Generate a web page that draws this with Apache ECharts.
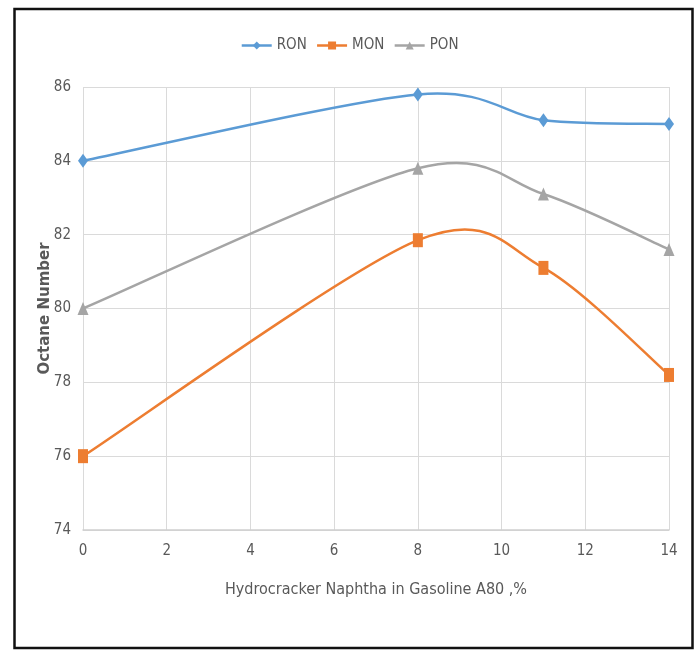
<!DOCTYPE html>
<html>
<head>
<meta charset="utf-8">
<script src="https://cdn.jsdelivr.net/npm/echarts@6/dist/echarts.min.js"></script>
<style>
  html, body { margin: 0; padding: 0; background: #ffffff; }
  #chart { width: 699px; height: 652px; }
</style>
</head>
<body>
<div id="chart"></div>
<script>
// Hydrocracker naphtha content (%) in gasoline A80
const naphthaPct = [0, 8, 11, 14];
// Octane numbers at each blend level
const ronValues = [84.0, 85.8, 85.1, 85.0];
const monValues = [76.0, 81.85, 81.1, 78.2];
const ponValues = [80.0, 83.8, 83.1, 81.6];
const seriesNames = ['RON', 'MON', 'PON'];
const seriesColors = ['#5b9bd5', '#ed7d31', '#a5a5a5'];

const FONT = '"DejaVu Sans Condensed", "Roboto", "Open Sans", sans-serif';
const TEXT = '#595959';
const TENSION = 1 / 6.5;

function pairs(xs, ys) {
  return xs.map((x, i) => [x, ys[i]]);
}

// Spreadsheet-style smoothed curve: one cubic Bezier per segment,
// control points taken from the neighbouring points (Catmull-Rom style).
function smoothSegmentRenderer(values, color) {
  return function (params, api) {
    const i = params.dataIndex;
    const n = naphthaPct.length;
    if (i >= n - 1) return null;
    const clampIdx = (k) => Math.max(0, Math.min(n - 1, k));
    const pt = (k) => api.coord([naphthaPct[clampIdx(k)], values[clampIdx(k)]]);
    const p0 = pt(i - 1), p1 = pt(i), p2 = pt(i + 1), p3 = pt(i + 2);
    return {
      type: 'bezierCurve',
      silent: true,
      shape: {
        x1: p1[0], y1: p1[1],
        cpx1: p1[0] + (p2[0] - p0[0]) * TENSION, cpy1: p1[1] + (p2[1] - p0[1]) * TENSION,
        cpx2: p2[0] - (p3[0] - p1[0]) * TENSION, cpy2: p2[1] - (p3[1] - p1[1]) * TENSION,
        x2: p2[0], y2: p2[1]
      },
      style: { fill: null, stroke: color, lineWidth: 2.5, lineCap: 'round' }
    };
  };
}

const allValues = [ronValues, monValues, ponValues];
const symbols = ['diamond', 'rect', 'triangle'];
const symbolSizes = [[10, 14], [10, 14], [11, 13]];

const series = [];
allValues.forEach((vals, s) => {
  series.push({
    name: seriesNames[s] + '-curve',
    type: 'custom',
    coordinateSystem: 'cartesian2d',
    renderItem: smoothSegmentRenderer(vals, seriesColors[s]),
    data: pairs(naphthaPct, vals),
    encode: { x: 0, y: 1 },
    z: 2,
    silent: true
  });
});
allValues.forEach((vals, s) => {
  series.push({
    name: seriesNames[s],
    type: 'line',
    data: pairs(naphthaPct, vals),
    symbol: symbols[s],
    symbolSize: symbolSizes[s],
    showSymbol: true,
    lineStyle: { color: seriesColors[s], width: 2.5, opacity: 0 },
    itemStyle: { color: seriesColors[s] },
    z: 3
  });
});

const chart = echarts.init(document.getElementById('chart'), null, { renderer: 'canvas' });

chart.setOption({
  backgroundColor: '#ffffff',
  animation: false,
  textStyle: { fontFamily: FONT },
  graphic: [{
    type: 'rect',
    shape: { x: 14.5, y: 9, width: 678, height: 639 },
    style: { fill: 'none', stroke: '#111111', lineWidth: 2.5 },
    silent: true
  }],
  legend: {
    top: 33,
    left: 'center',
    itemWidth: 30,
    itemHeight: 10,
    itemGap: 9,
    lineStyle: { opacity: 1, width: 2.5 },
    textStyle: { color: TEXT, fontSize: 15, fontFamily: FONT },
    data: seriesNames
  },
  grid: { left: 83, right: 30, top: 87, bottom: 122, containLabel: false },
  xAxis: {
    type: 'value',
    min: 0,
    max: 14,
    interval: 2,
    name: 'Hydrocracker Naphtha in Gasoline A80 ,%',
    nameLocation: 'middle',
    nameGap: 52,
    nameTextStyle: { color: TEXT, fontSize: 16, fontFamily: FONT },
    axisLine: { show: true, lineStyle: { color: '#d0d0d0', width: 1.5 } },
    axisTick: { show: false },
    axisLabel: { color: TEXT, fontSize: 15, margin: 14, fontFamily: FONT },
    splitLine: { show: true, lineStyle: { color: '#dadada', width: 1 } }
  },
  yAxis: {
    type: 'value',
    min: 74,
    max: 86,
    interval: 2,
    name: 'Octane Number',
    nameLocation: 'middle',
    nameGap: 30,
    nameMoveOverlap: false,
    nameTextStyle: { color: TEXT, fontSize: 15, fontWeight: 'bold', fontFamily: '"DejaVu Sans", sans-serif' },
    axisLine: { show: false },
    axisTick: { show: false },
    axisLabel: { color: TEXT, fontSize: 15, margin: 12, fontFamily: FONT },
    splitLine: { show: true, lineStyle: { color: '#dadada', width: 1 } }
  },
  series: series
});
</script>
</body>
</html>
